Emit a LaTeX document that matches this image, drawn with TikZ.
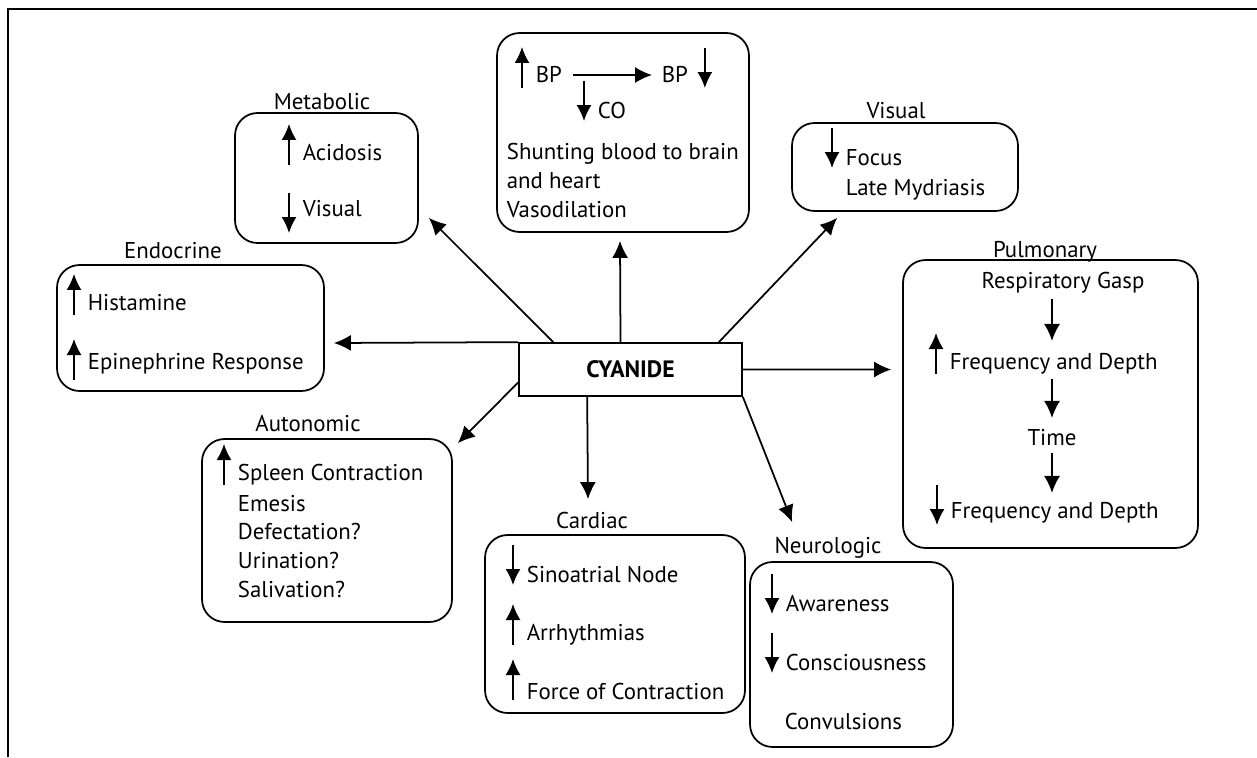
\documentclass[tikz,border=0pt]{standalone}
\usepackage{fontspec}
\setmainfont{PT Sans}
\usetikzlibrary{arrows.meta,positioning}

\tikzset{
  panel/.style={draw, line width=1pt, rounded corners=0.45cm},
  txt/.style={inner sep=0pt, anchor=base west},
  heading/.style={inner sep=0pt, anchor=base},
  updown/.style={line width=0.9pt, -{Latex[length=0.32cm,width=0.3cm]}},
}
\newcommand{\upmark}[2][0]{\draw[updown] ([shift={(-13,5+#1)}]#2.base west) -- ++(0,-41);}
\newcommand{\downmark}[2][0]{\draw[updown] ([shift={(-13,-37+#1)}]#2.base west) -- ++(0,40);}

\begin{document}
\begin{tikzpicture}[x=0.02cm, y=-0.02cm, font=\fontsize{13}{15}\selectfont,
    >={Latex[length=0.34cm,width=0.32cm]}, line width=1pt]
    \useasboundingbox (0,0) rectangle (1257,757);
    \draw (8,757) -- (8,9) -- (1257,9);

    % boxes
    \node[panel, minimum width=3.66cm, minimum height=2.6cm] (Metabolic) at (326.5,178) {};
    \node[panel, minimum width=5.04cm, minimum height=3.98cm] (Vascular) at (623,132.5) {};
    \node[panel, minimum width=4.52cm, minimum height=1.76cm] (Visual) at (905,167) {};
    \node[panel, minimum width=5.9cm, minimum height=5.76cm] (Pulmonary) at (1050.5,404) {};
    \node[panel, minimum width=5.34cm, minimum height=2.52cm] (Endocrine) at (190.5,328) {};
    \node[panel, minimum width=5cm, minimum height=3.66cm] (Autonomic) at (327,530.5) {};
    \node[panel, minimum width=5.2cm, minimum height=3.56cm] (Cardiac) at (615,624) {};
    \node[panel, minimum width=4.06cm, minimum height=3.7cm] (Neurologic) at (851.5,654.5) {};
    \node[draw, minimum width=4.46cm, minimum height=1.06cm, font=\fontsize{13.5}{15}\selectfont\bfseries] (Cyanide) at (630.5,369.5) {CYANIDE};

    % titles
    \node[heading] (Metabolic Title) at (322,110) {Metabolic};
    \node[heading] (Visual Title) at (896,118) {Visual};
    \node[heading] (Pulmonary Title) at (1045,257) {Pulmonary};
    \node[heading] (Endocrine Title) at (173,258) {Endocrine};
    \node[heading] (Autonomic Title) at (308,431) {Autonomic};
    \node[heading] (Cardiac Title) at (592,528) {Cardiac};
    \node[heading] (Neurologic Title) at (828,553) {Neurologic};

    % metabolic
    \node[txt] (Acidosis) at (302,160) {Acidosis};
    \node[txt] (Metabolic Visual) at (302,216) {Visual};
    \upmark{Acidosis}
    \downmark[14]{Metabolic Visual}

    % blood pressure
    \node[txt] (BP Up) at (535,83) {BP};
    \node[txt] (BP Down) at (661,83) {BP};
    \node[txt] (CO) at (597,118) {CO};
    \node[txt] (Shunting) at (506,159) {Shunting blood to brain};
    \node[txt] (Heart) at (506,188) {and heart};
    \node[txt] (Vasodilation) at (506,217) {Vasodilation};
    \upmark{BP Up}
    \draw[updown] ([shift={(16,-35)}]BP Down.base east) -- ++(0,40);
    \downmark{CO}
    \draw[->, shorten <=0.2cm, shorten >=0.18cm] (BP Up.east) -- (BP Down.west);

    % visual
    \node[txt] (Focus) at (845,165) {Focus};
    \node[txt] (Mydriasis) at (845,195) {Late Mydriasis};
    \downmark{Focus}

    % pulmonary
    \node[heading] (Gasp) at (1063,288) {Respiratory Gasp};
    \node[txt] (Frequency Up) at (949,369) {Frequency and Depth};
    \node[heading] (Time) at (1052,445) {Time};
    \node[txt] (Frequency Down) at (950,518) {Frequency and Depth};
    \upmark{Frequency Up}
    \downmark[4]{Frequency Down}
    \draw[->, shorten <=0.1cm, shorten >=0.22cm] (Gasp.south -| Time) -- (Frequency Up.north -| Time);
    \draw[->, shorten <=0.08cm, shorten >=0.2cm] (Frequency Up.south -| Time) -- (Time.north);
    \draw[->, shorten <=0.14cm, shorten >=0.16cm] (Time.south) -- (Frequency Down.north -| Time);

    % endocrine
    \node[txt] (Histamine) at (87,310) {Histamine};
    \node[txt] (Epinephrine) at (87,369) {Epinephrine Response};
    \upmark{Histamine}
    \upmark[6]{Epinephrine}

    % autonomic
    \node[txt] (Spleen) at (237,480) {Spleen Contraction};
    \node[txt] (Emesis) at (237,511) {Emesis};
    \node[txt] (Defecation) at (237,539) {Defectation?};
    \node[txt] (Urination) at (237,568) {Urination?};
    \node[txt] (Salivation) at (237,597) {Salivation?};
    \upmark{Spleen}

    % cardiac
    \node[txt] (Sinoatrial) at (526,582) {Sinoatrial Node};
    \node[txt] (Arrhythmias) at (526,640) {Arrhythmias};
    \node[txt] (Force) at (526,699) {Force of Contraction};
    \downmark{Sinoatrial}
    \upmark{Arrhythmias}
    \upmark[-4]{Force}

    % neurologic
    \node[txt] (Awareness) at (785,611) {Awareness};
    \node[txt] (Consciousness) at (785,670) {Consciousness};
    \node[txt] (Convulsions) at (784,729) {Convulsions};
    \downmark{Awareness}
    \downmark{Consciousness}

    % from cyanide
    \draw[->] ([shift={(35,0)}]Cyanide.north west) -- ([shift={(10,-26)}]Metabolic.south east);
    \draw[->] ([shift={(-10,0)}]Cyanide.north) -- ([shift={(-3,8)}]Vascular.south);
    \draw[->] ([shift={(-24,0)}]Cyanide.north east) -- ([shift={(46,6)}]Visual.south west);
    \draw[->] (Cyanide.north west) -- ([shift={(9,15)}]Endocrine.east);
    \draw[->] (Cyanide.east) -- ([shift={(-11,-34.5)}]Pulmonary.west);
    \draw[->] ([shift={(0,13)}]Cyanide.west) -- ([shift={(5,5)}]Autonomic.north east);
    \draw[->] ([shift={(69,0)}]Cyanide.south west) -- ([shift={(-27,-35)}]Cardiac.north);
    \draw[->] (Cyanide.south east) -- ([shift={(43,-39)}]Neurologic.north west);
\end{tikzpicture}
\end{document}
